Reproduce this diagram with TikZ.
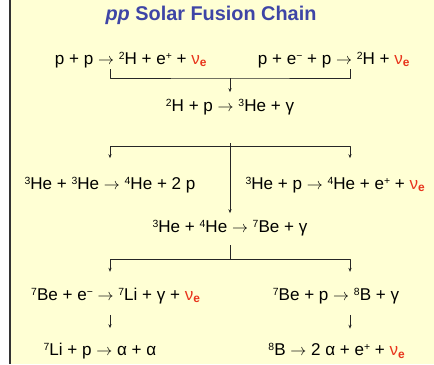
\documentclass[tikz,border=0pt]{standalone}
\usepackage{fontspec}
\setmainfont{Liberation Sans}
\usetikzlibrary{arrows.meta}
\definecolor{paper}{HTML}{FFFFD4}
\definecolor{titleblue}{HTML}{3E45A6}
\definecolor{nured}{HTML}{E8341C}
\newcommand{\sups}[1]{\raisebox{0.29em}{\fontsize{7.8}{8}\selectfont #1}}
\newcommand{\nuE}{{\color{nured}ν\textsubscript{\textbf{e}}}}
\newcommand{\iso}[2]{\sups{#1}#2}
\newcommand{\yields}{\ensuremath{\rightarrow}}
\tikzset{
  reac/.style={inner sep=1pt},
  link/.style={line width=0.65pt, black!85},
}
\begin{document}
\begin{tikzpicture}[x=0.75pt,y=-0.75pt,font=\fontsize{12.8}{14}\selectfont,line join=round,>={Stealth[length=3pt,width=2.4pt]}]
	\useasboundingbox (0,0) rectangle (434,364);
	\fill[paper] (10,0) rectangle (434,364);
	\draw[line width=1.1pt,black!80] (10,0) -- (10,364);
	\path
	(110,0) coordinate (colL)
	(230,0) coordinate (colM)
	(350,0) coordinate (colR)
	;
	\node[font=\fontsize{14.9}{16}\selectfont\bfseries,text=titleblue] (title) at (211,15) {\textit{pp} Solar Fusion Chain};
	% reactions
	\node[reac] (ppI)   at (131,60)  {p + p \yields{} \iso{2}{H} + e\sups{+} + \nuE};
	\node[reac] (pep)   at (334,60)  {p + e\sups{−} + p \yields{} \iso{2}{H} + \nuE};
	\node[reac] (dp)    at (230,107) {\iso{2}{H} + p \yields{} \iso{3}{He} + γ};
	\node[reac] (hethe) at (110,185) {\iso{3}{He} + \iso{3}{He} \yields{} \iso{4}{He} + 2 p};
	\node[reac,anchor=west] (hep) at (244,185) {\iso{3}{He} + p \yields{} \iso{4}{He} + e\sups{+} + \nuE};
	\node[reac] (beseven) at (230,228) {\iso{3}{He} + \iso{4}{He} \yields{} \iso{7}{Be} + γ};
	\node[reac] (bee)   at (116,296) {\iso{7}{Be} + e\sups{−} \yields{} \iso{7}{Li} + γ + \nuE};
	\node[reac] (bep)   at (336,296) {\iso{7}{Be} + p \yields{} \iso{8}{B} + γ};
	\node[reac] (lip)   at (100,351) {\iso{7}{Li} + p \yields{} α + α};
	\node[reac] (bdec)  at (337,351) {\iso{8}{B} \yields{} 2 α + e\sups{+} + \nuE};
	% junctions
	\path
	(colM |- 0,78) coordinate (jA)
	(colM |- 0,146) coordinate (jB)
	(colM |- 0,259) coordinate (jC)
	;
	\draw[link] (ppI.south -| colL) |- (jA) -| (pep.south -| colR);
	\draw[link,->,shorten >=4pt] (jA) -- (dp.north);
	\draw[link,->,shorten <=20pt,shorten >=4pt] (dp.south) -- (beseven.north);
	\draw[link,->,shorten >=13pt] (jB) -| (hethe.north -| colL);
	\draw[link,->,shorten >=13pt] (jB) -| (hep.north -| colR);
	\draw[link,shorten <=6pt] (beseven.south) -- (jC);
	\draw[link,->,shorten >=11pt] (jC) -| (bee.north -| colL);
	\draw[link,->,shorten >=11pt] (jC) -| (bep.north -| colR);
	\draw[link,->,shorten <=7pt,shorten >=10pt] (bee.south -| colL) -- (lip.north -| colL);
	\draw[link,->,shorten <=7pt,shorten >=10pt] (bep.south -| colR) -- (bdec.north -| colR);
\end{tikzpicture}
\end{document}
